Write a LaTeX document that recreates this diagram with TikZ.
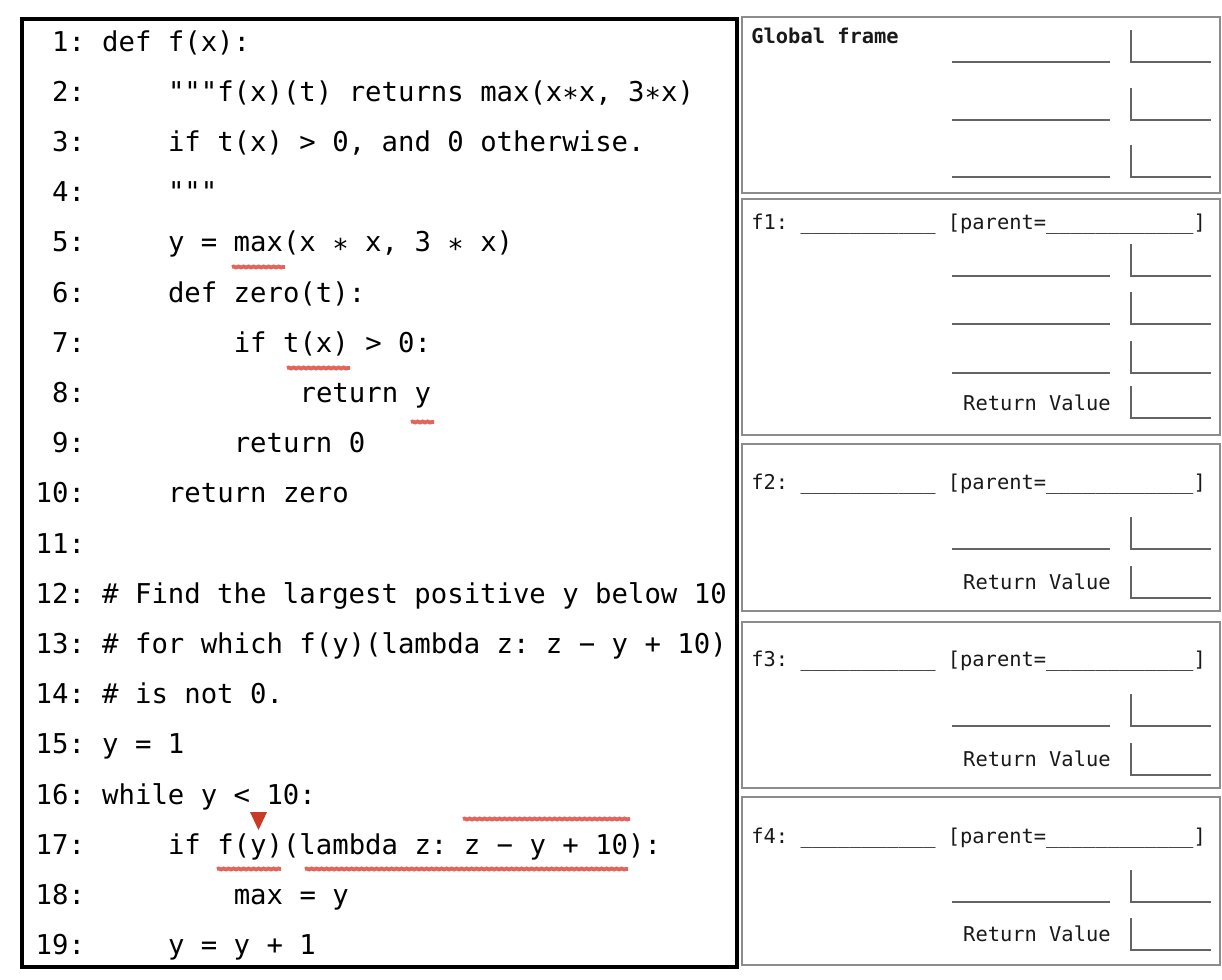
\documentclass[tikz,border=0pt]{standalone}
\usepackage{fontspec}
\setmonofont{DejaVu Sans Mono}
\usepackage{tikz}
\usetikzlibrary{calc, positioning, decorations.pathmorphing}
\usepackage{xcolor}

\definecolor{framegray}{RGB}{140,140,140}
\definecolor{slotgray}{RGB}{100,100,100}
\definecolor{labelgray}{RGB}{25,25,25}
\definecolor{markred}{RGB}{226,100,90}
\definecolor{tipred}{RGB}{200,58,38}

\newcommand{\codefont}{\fontsize{13.65}{16}\selectfont\ttfamily}
\newcommand{\framefont}{\fontsize{10.2}{12}\selectfont\ttfamily}
\newcommand{\codestar}{\raisebox{-0.24em}{*}}

\tikzset{
	codeline/.style={anchor=base west, inner sep=0pt, font=\codefont},
	lineno/.style={anchor=base east, inner sep=0pt, font=\codefont},
	framebox/.style={draw=framegray, line width=1pt},
	slotline/.style={draw=slotgray, line width=0.8pt},
	framelabel/.style={anchor=base west, inner sep=0pt, font=\framefont, text=labelgray},
	rvlabel/.style={anchor=base east, inner sep=0pt, font=\framefont, text=labelgray},
	squiggle/.style={draw=markred, line width=1.9pt, decorate,
		decoration={snake, amplitude=0.25pt, segment length=2.5pt}},
}

\begin{document}
\begin{tikzpicture}[x=0.5pt, y=-0.5pt]
	\useasboundingbox (0,0) rectangle (1222,980);
	
	% code box
	\draw[line width=1.8pt] (22,19) rectangle (737,967);
	
	\foreach \n in {1,...,19}
		\node[lineno] (n\n) at (85.4, {302+(\n-6)*50.2}) {\n:};
	
	\node[codeline] (c1)  at (101.8,51.0)  {def f(x):};
	\node[codeline] (c2)  at (167.6,101.2) {"""f(x)(t) returns max(x\codestar x, 3\codestar x)};
	\node[codeline] (c3)  at (167.6,151.4) {if t(x) > 0, and 0 otherwise.};
	\node[codeline] (c4)  at (167.6,201.6) {"""};
	\node[codeline] (c5)  at (167.6,251.8) {y = max(x \codestar{} x, 3 \codestar{} x)};
	\node[codeline] (c6)  at (167.6,302.0) {def zero(t):};
	\node[codeline] (c7)  at (233.4,352.2) {if t(x) > 0:};
	\node[codeline] (c8)  at (299.2,402.4) {return y};
	\node[codeline] (c9)  at (233.4,452.6) {return 0};
	\node[codeline] (c10) at (167.6,502.8) {return zero};
	\node[codeline] (c12) at (101.8,603.2) {\# Find the largest positive y below 10};
	\node[codeline] (c13) at (101.8,653.4) {\# for which f(y)(lambda z: z − y + 10)};
	\node[codeline] (c14) at (101.8,703.6) {\# is not 0.};
	\node[codeline] (c15) at (101.8,753.8) {y = 1};
	\node[codeline] (c16) at (101.8,804.0) {while y < 10:};
	\node[codeline] (c17) at (167.6,854.2) {if f(y)(lambda z: z − y + 10):};
	\node[codeline] (c18) at (233.4,904.4) {max = y};
	\node[codeline] (c19) at (167.6,954.6) {y = y + 1};
	
	% red marks
	\draw[squiggle] (232,267) -- (285,267);
	\draw[squiggle] (287,368) -- (350,368);
	\draw[squiggle] (411,422) -- (434,422);
	\draw[squiggle] (217,869) -- (281,869);
	\draw[squiggle] (305,869) -- (628,869);
	\draw[squiggle] (463,819) -- (630,819);
	\fill[tipred] (250,812) -- (267,812) -- (258.5,830) -- cycle;
	
	% frames
	\draw[framebox] (742,17)  rectangle (1220,193);
	\draw[framebox] (742,199) rectangle (1220,435);
	\draw[framebox] (742,444) rectangle (1220,611);
	\draw[framebox] (742,622) rectangle (1220,788);
	\draw[framebox] (742,797) rectangle (1220,965);
	
	\node[framelabel, font=\framefont\bfseries] (gf) at (751,43) {Global frame};
	\node[framelabel] (f1) at (751,229) {f1: \_\_\_\_\_\_\_\_\_\_\_ [parent=\_\_\_\_\_\_\_\_\_\_\_\_]};
	\node[framelabel] (f2) at (751,489) {f2: \_\_\_\_\_\_\_\_\_\_\_ [parent=\_\_\_\_\_\_\_\_\_\_\_\_]};
	\node[framelabel] (f3) at (751,666) {f3: \_\_\_\_\_\_\_\_\_\_\_ [parent=\_\_\_\_\_\_\_\_\_\_\_\_]};
	\node[framelabel] (f4) at (751,843) {f4: \_\_\_\_\_\_\_\_\_\_\_ [parent=\_\_\_\_\_\_\_\_\_\_\_\_]};
	
	\node[rvlabel] (rv1) at (1111,410) {Return Value};
	\node[rvlabel] (rv2) at (1111,589) {Return Value};
	\node[rvlabel] (rv3) at (1111,766) {Return Value};
	\node[rvlabel] (rv4) at (1111,941) {Return Value};
	
	% name and value slots
	\foreach \y in {62,120,177,276,324,373,549,726,902}{
		\draw[slotline] (952,\y) -- (1110,\y);
		\draw[slotline] (1131,{\y-32}) -- (1131,\y) -- (1211,\y);
	}
	\foreach \y in {418,598,775,950}
		\draw[slotline] (1131,{\y-32}) -- (1131,\y) -- (1211,\y);
\end{tikzpicture}
\end{document}
